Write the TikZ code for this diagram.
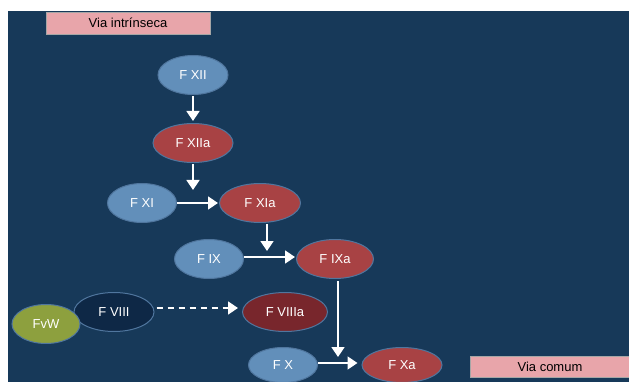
\documentclass[tikz,border=0pt]{standalone}
\usepackage{fontspec}
\setmainfont{Liberation Sans}
\usetikzlibrary{shapes.geometric,arrows.meta}
\definecolor{fundo}{RGB}{23,57,89}
\definecolor{azulclaro}{RGB}{98,143,186}
\definecolor{vermelho}{RGB}{168,66,68}
\definecolor{vinho}{RGB}{120,38,44}
\definecolor{escuro}{RGB}{14,40,70}
\definecolor{verde}{RGB}{141,160,62}
\definecolor{borda}{RGB}{80,118,158}
\definecolor{rosa}{RGB}{232,165,170}
\tikzset{fator/.style={ellipse, draw=borda, line width=1pt, text=white, inner sep=0pt,
    font=\fontsize{13}{15}\selectfont, minimum width=70pt, minimum height=39pt, fill=azulclaro},
  ativo/.style={fator, fill=vermelho, minimum width=80pt},
  via/.style={rectangle, draw=gray!70, fill=rosa, text=black, inner sep=0pt,
    font=\fontsize{13}{15}\selectfont, minimum height=22pt},
  seta/.style={white, line width=1.5pt, -{Triangle[width=13pt,length=10pt]}}}

\begin{document}
\begin{tikzpicture}[x=1pt,y=-1pt]
   \fill[white] (0,0) rectangle (629,382);
   \fill[fundo] (8,11) rectangle (629,382);
   \useasboundingbox (0,0) rectangle (629,382);
   % caixas
   \node[via, minimum width=164pt] (intr) at (128,23) {Via intrínseca};
   \node[via, minimum width=159pt, minimum height=21pt] (comum) at (550,367) {Via comum};
   % fatores
   \node[fator] (XII) at (193,75) {F XII};
   \node[ativo] (XIIa) at (193,143) {F XIIa};
   \node[fator, minimum width=69pt] (XI) at (142,203) {F XI};
   \node[ativo, minimum width=81pt] (XIa) at (260,203) {F XIa};
   \node[fator, minimum width=69pt] (IX) at (209,259) {F IX};
   \node[ativo, minimum width=77pt] (IXa) at (335,259) {F IXa};
   \node[fator, fill=escuro, minimum width=80pt] (VIII) at (114,312) {F VIII};
   \node[fator, fill=verde, minimum width=68pt] (FvW) at (46,324) {FvW};
   \node[ativo, fill=vinho, minimum width=85pt] (VIIIa) at (285,312) {F VIIIa};
   \node[fator, minimum width=69pt, minimum height=35pt] (X) at (283,365) {F X};
   \node[ativo, minimum height=35pt] (Xa) at (402,365) {F Xa};
   \coordinate (jXI) at (193,190);
   \coordinate (jIX) at (267,251);
   \coordinate (jX) at (338,357);
   % setas
   \draw[seta, shorten <=1pt, shorten >=2pt] (XII) -- (XIIa);
   \draw[seta, shorten <=1pt] (XIIa) -- (jXI);
   \draw[seta, shorten >=1pt] (XI) -- (XIa);
   \draw[seta, shorten <=1pt] (XIa.south -| jIX) -- (jIX);
   \draw[seta, shorten >=1pt] (IX.east |- 0,257) -- (IXa.west |- 0,257);
   \draw[seta, shorten <=2pt] (IXa.south -| jX) -- (jX);
   \draw[seta, dash pattern=on 6pt off 5pt, shorten <=2pt, shorten >=4pt] (VIII.east |- 0,308) -- (VIIIa.west |- 0,308);
   \draw[seta, shorten >=4pt] (X.east |- 0,363) -- (Xa.west |- 0,363);
  \end{tikzpicture}
\end{document}
